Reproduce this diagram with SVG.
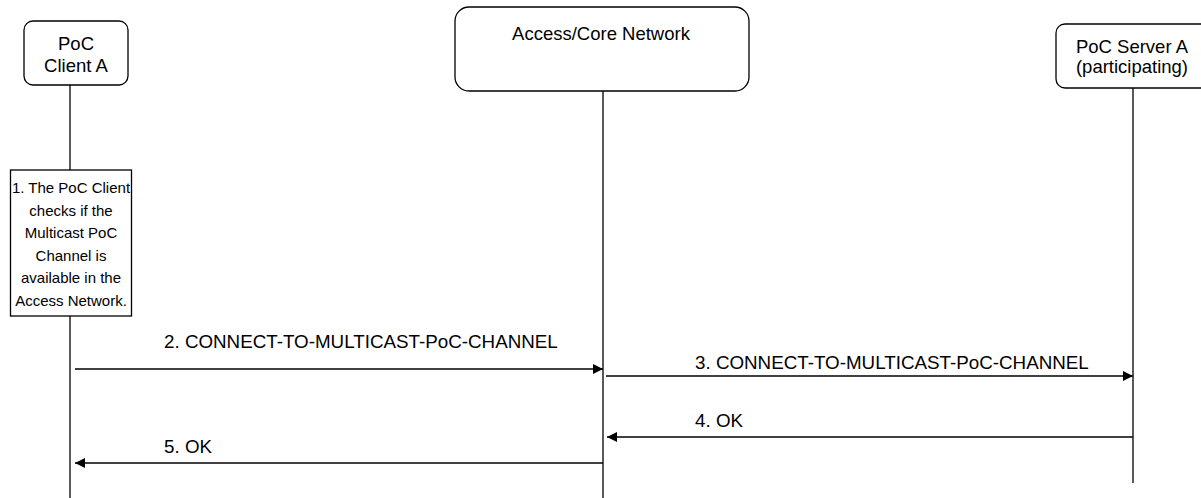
<svg xmlns="http://www.w3.org/2000/svg" width="1201" height="498" viewBox="0 0 1201 498">
<defs>
<style>
.box{fill:#fff;stroke:#000;stroke-width:1.3}
.life{stroke:#000;stroke-width:1.3;fill:none}
.msg{stroke:#000;stroke-width:1.6;fill:none}
.t{font-family:"Liberation Sans",Arial,sans-serif;font-size:18.5px;fill:#000}
.m{font-family:"Liberation Sans",Arial,sans-serif;font-size:18.8px;fill:#000}
.c{text-anchor:middle}
.n{font-family:"Liberation Sans",Arial,sans-serif;font-size:15px;fill:#000;text-anchor:middle}
</style>
<marker id="ah" viewBox="0 0 10 10" refX="10" refY="5" markerWidth="11" markerHeight="10" markerUnits="userSpaceOnUse" orient="auto">
<path d="M0,0 L10,5 L0,10 Z" fill="#000"/>
</marker>
</defs>
<rect width="1201" height="498" fill="#fff"/>
<g id="lifelines">
<line class="life" x1="70" y1="85" x2="70" y2="498"/>
<line class="life" x1="603" y1="91" x2="603" y2="498"/>
<line class="life" x1="1133" y1="88" x2="1133" y2="483"/>
</g>
<g id="clientA">
<rect class="box" x="24" y="21" width="104" height="64" rx="9"/>
<text class="t c" x="76" y="50">PoC</text>
<text class="t c" x="76" y="72">Client A</text>
</g>
<g id="network">
<rect class="box" x="455" y="7" width="294" height="84" rx="14"/>
<text class="t c" x="601" y="40">Access/Core Network</text>
</g>
<g id="serverA">
<rect class="box" x="1056" y="24" width="160" height="64" rx="9"/>
<text class="t c" x="1132" y="53">PoC Server A</text>
<text class="t c" x="1132" y="73">(participating)</text>
</g>
<g id="note1">
<rect class="box" x="10.5" y="170" width="121" height="146"/>
<text class="n" x="71" y="193">1. The PoC Client</text>
<text class="n" x="71" y="215.5">checks if the</text>
<text class="n" x="71" y="238">Multicast PoC</text>
<text class="n" x="71" y="260.5">Channel is</text>
<text class="n" x="71" y="283">available in the</text>
<text class="n" x="71" y="305.5">Access Network.</text>
</g>
<g id="connectors">
<line class="msg" x1="75" y1="369" x2="603" y2="369" marker-end="url(#ah)"/>
<line class="msg" x1="606" y1="376" x2="1133" y2="376" marker-end="url(#ah)"/>
<line class="msg" x1="1133" y1="437" x2="607" y2="437" marker-end="url(#ah)"/>
<line class="msg" x1="603" y1="463" x2="75" y2="463" marker-end="url(#ah)"/>
<text class="m" x="164" y="348">2. CONNECT-TO-MULTICAST-PoC-CHANNEL</text>
<text class="m" x="695" y="369">3. CONNECT-TO-MULTICAST-PoC-CHANNEL</text>
<text class="m" x="695" y="427">4. OK</text>
<text class="m" x="164" y="453">5. OK</text>
</g>
</svg>
